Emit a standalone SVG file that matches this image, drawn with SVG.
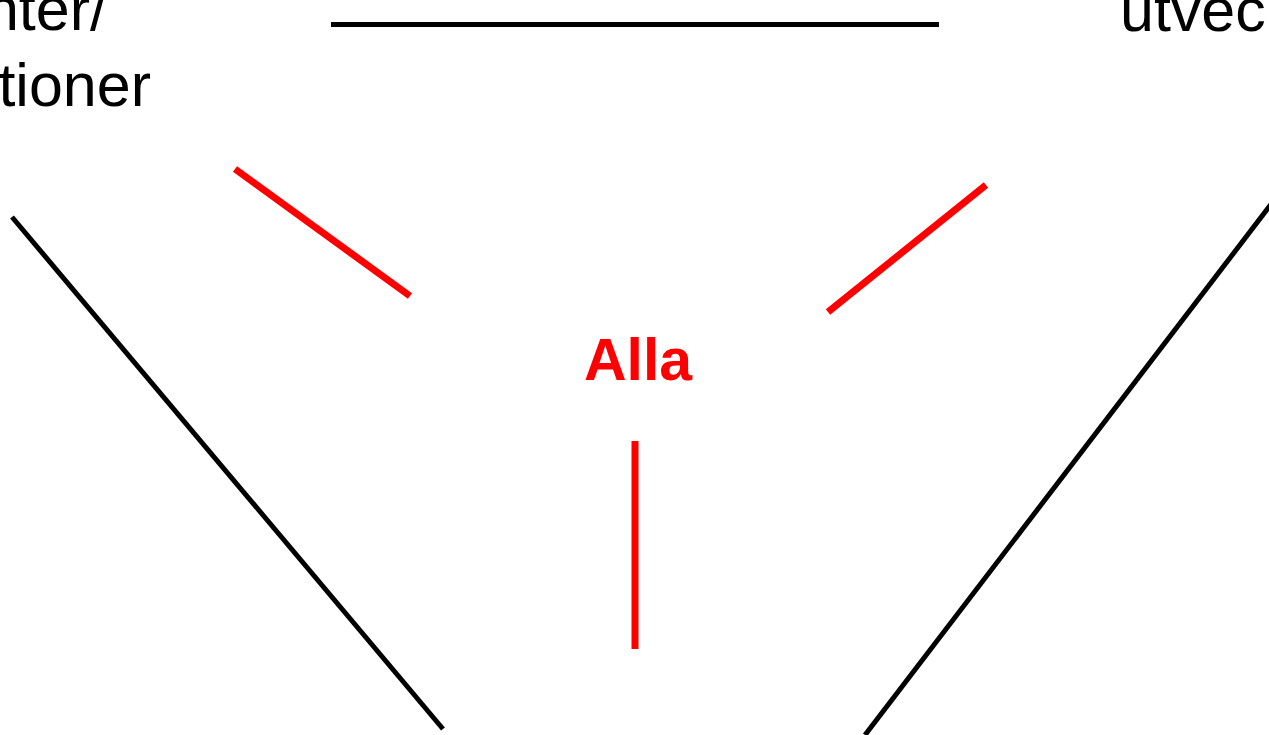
<svg xmlns="http://www.w3.org/2000/svg" width="1269" height="735" viewBox="0 0 1269 735">
<style>
.lbl{font-family:"Liberation Sans",Arial,sans-serif;font-size:61px;fill:#000}
.alla{font-family:"Liberation Sans",Arial,sans-serif;font-size:59px;font-weight:bold;fill:#ff0000}
.blk{stroke:#000;stroke-width:5;fill:none}
.red{stroke:#ff0000;stroke-width:7;fill:none}
</style>
<rect width="1269" height="735" fill="#fff"/>
<g id="node-left">
<text class="lbl" x="107" y="30" text-anchor="end">nter/</text>
<text class="lbl" x="151" y="106" text-anchor="end">tioner</text>
</g>
<g id="node-right">
<text class="lbl" x="1120" y="31">utvec</text>
</g>
<g id="node-center">
<text class="alla" x="638" y="380" text-anchor="middle">Alla</text>
</g>
<g id="connectors">
<line class="blk" x1="331" y1="24.5" x2="939" y2="24.5"/>
<line class="blk" x1="12" y1="217" x2="443" y2="729"/>
<line class="blk" x1="1272" y1="203" x2="865" y2="735"/>
<line class="red" x1="235" y1="169" x2="410" y2="296"/>
<line class="red" x1="986" y1="185" x2="828" y2="312"/>
<line class="red" stroke-width="8" x1="635" y1="441" x2="635" y2="649"/>
</g>
</svg>
